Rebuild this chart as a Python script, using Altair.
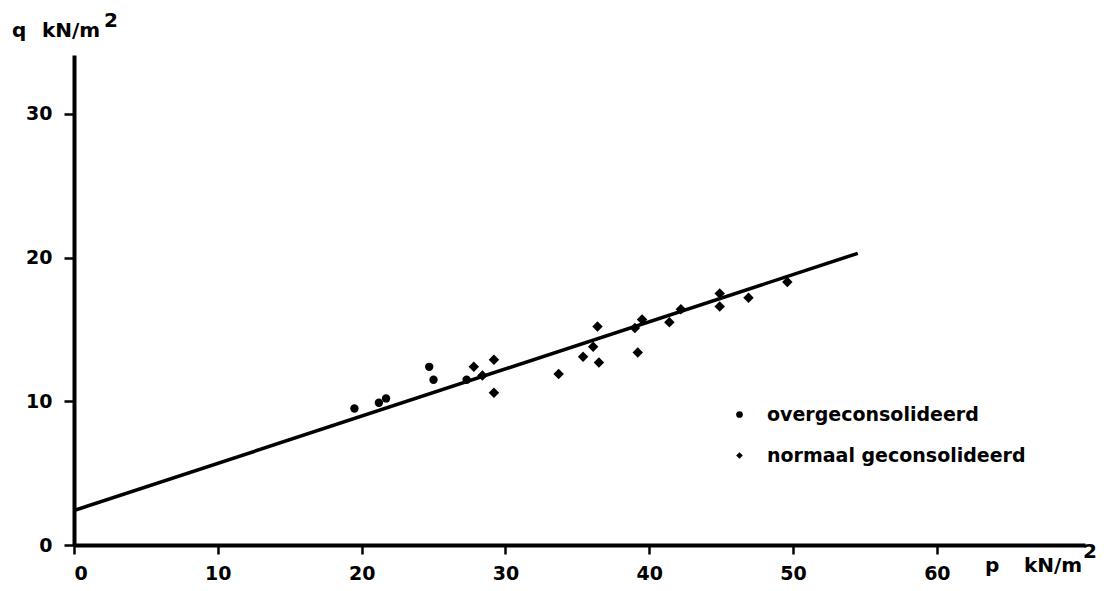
import altair as alt
import pandas as pd

# Data
over_p = [19.5, 21.2, 21.7, 24.7, 25.0, 27.3]
over_q = [9.5, 9.9, 10.2, 12.4, 11.5, 11.5]

norm_p = [27.8, 28.4, 29.2, 29.2, 33.7, 35.4, 36.1, 36.4, 36.5, 39.2, 39.0, 39.5,
          41.4, 42.2, 44.9, 44.9, 46.9, 49.6]
norm_q = [12.4, 11.8, 12.9, 10.6, 11.9, 13.1, 13.8, 15.2, 12.7, 13.4, 15.1, 15.7,
          15.5, 16.4, 17.5, 16.6, 17.2, 18.3]

series_names = ["overgeconsolideerd", "normaal geconsolideerd"]
line_p = [0, 54.5]
line_q = [2.4, 20.3]

x_ticks = [0, 10, 20, 30, 40, 50, 60]
y_ticks = [0, 10, 20, 30]

pts = pd.DataFrame(
    {"p": over_p + norm_p,
     "q": over_q + norm_q,
     "serie": [series_names[0]] * len(over_p) + [series_names[1]] * len(norm_p)}
)
line_df = pd.DataFrame({"p": line_p, "q": line_q})

FONT = "DejaVu Sans"
W, H = 1011, 490

xs = alt.Scale(domain=[0, 70.3], nice=False, zero=False)
ys = alt.Scale(domain=[0, 34.1], nice=False, zero=False)

x_axis = alt.Axis(values=x_ticks, title=None, grid=False, domainWidth=4,
                  domainColor="black", tickColor="black", tickWidth=2.5,
                  tickSize=9, labelPadding=10, labelFontSize=19,
                  labelFont=FONT, labelFontWeight="bold", labelColor="black")
y_axis = alt.Axis(values=y_ticks, title=None, grid=False, domainWidth=4,
                  domainColor="black", tickColor="black", tickWidth=2.5,
                  tickSize=10, labelPadding=12, labelFontSize=19,
                  labelFont=FONT, labelFontWeight="bold", labelColor="black")

line = alt.Chart(line_df).mark_line(color="black", strokeWidth=3.5).encode(
    x=alt.X("p:Q", scale=xs, axis=x_axis),
    y=alt.Y("q:Q", scale=ys, axis=y_axis),
)

points = alt.Chart(pts).mark_point(filled=True, color="black", opacity=1).encode(
    x=alt.X("p:Q", scale=xs),
    y=alt.Y("q:Q", scale=ys),
    shape=alt.Shape(
        "serie:N",
        scale=alt.Scale(domain=series_names, range=["circle", "diamond"]),
        legend=alt.Legend(
            title=None, orient="none", legendX=656, legendY=350,
            labelFont=FONT, labelFontSize=19, labelFontWeight="bold",
            labelColor="black", symbolFillColor="black", symbolStrokeColor="black",
            symbolSize=45, rowPadding=21, labelOffset=18, padding=0, labelLimit=0,
        ),
    ),
    size=alt.condition(alt.datum.serie == series_names[1], alt.value(110), alt.value(70)),
)

def label(txt, x, y, size, align="left"):
    return alt.Chart(pd.DataFrame({"t": [txt]})).mark_text(
        font=FONT, fontSize=size, fontWeight="bold", color="black",
        align=align, baseline="alphabetic"
    ).encode(text="t:N", x=alt.value(x), y=alt.value(y))

titles = [
    label("q", -62, -18, 20),
    label("kN/m", -32, -18, 20),
    label("2", 30, -28, 20),
    label("p", 911, 517, 20),
    label("kN/m", 950, 517, 20),
    label("2", 1009, 503, 20),
]

chart = alt.layer(line, points, *titles).properties(
    width=W, height=H,
    autosize=alt.AutoSizeParams(type="none"),
    padding={"left": 66, "top": 47, "right": 13, "bottom": 38},
).configure(background="white").configure_view(stroke=None, strokeWidth=0)

chart.save("out.html", embed_options={"renderer": "svg", "actions": False})
